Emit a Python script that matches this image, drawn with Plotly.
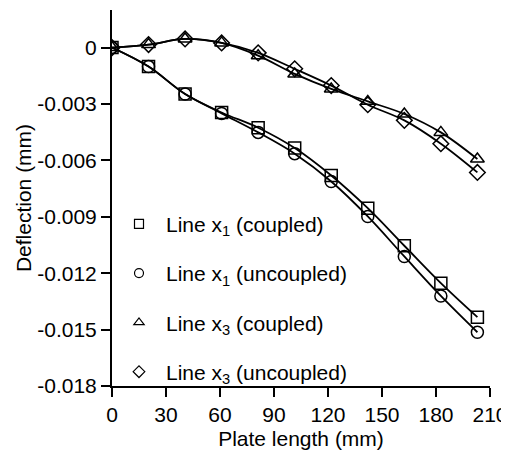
import plotly.graph_objects as go

# Data
plate_length = [0, 20.3, 40.6, 60.9, 81.2, 101.5, 121.8, 142.1, 162.4, 182.7, 203]
x1_coupled = [0, -0.00101, -0.00247, -0.00345, -0.00426, -0.00534, -0.00680, -0.00854, -0.01054, -0.01253, -0.01434]
x1_uncoupled = [0, -0.00101, -0.00247, -0.00350, -0.00451, -0.00564, -0.00712, -0.00898, -0.01111, -0.01321, -0.01514]
x3_coupled = [0, 0.00016, 0.00046, 0.00025, -0.00043, -0.00140, -0.00220, -0.00286, -0.00353, -0.00451, -0.00593]
x3_uncoupled = [0, 0.00016, 0.00046, 0.00025, -0.00028, -0.00113, -0.00202, -0.00304, -0.00387, -0.00511, -0.00664]

series_names = [
    "Line x<sub>1</sub> (coupled)",
    "Line x<sub>1</sub> (uncoupled)",
    "Line x<sub>3</sub> (coupled)",
    "Line x<sub>3</sub> (uncoupled)",
]
series_values = [x1_coupled, x1_uncoupled, x3_coupled, x3_uncoupled]
series_symbols = ["square-open", "circle-open", "triangle-up-open", "diamond-open"]

x_tickvals = [0, 30, 60, 90, 120, 150, 180, 210]
y_tickvals = [0, -0.003, -0.006, -0.009, -0.012, -0.015, -0.018]
y_ticktext = ["0", "-0.003", "-0.006", "-0.009", "-0.012", "-0.015", "-0.018"]

FONT = "Liberation Sans, Arial, Helvetica, sans-serif"
FS = 21

fig = go.Figure()

for name, vals, sym in zip(series_names, series_values, series_symbols):
    fig.add_trace(go.Scatter(
        x=plate_length, y=vals, mode="lines+markers",
        line=dict(color="black", width=1.8, shape="spline", smoothing=1.0),
        marker=dict(symbol=sym, size=12, color="black", line=dict(width=1.5, color="black")),
        showlegend=False, hoverinfo="skip",
    ))

for i, (name, sym) in enumerate(zip(series_names, series_symbols)):
    fig.add_trace(go.Scatter(
        x=[None], y=[None], mode="markers", name=name,
        legendgroup="g%d" % i,
        marker=dict(symbol=sym, size=9, color="black", line=dict(width=1.2, color="black")),
    ))

# The page body has an 8px default margin, so the figure is sized to fill the rest.
fig.update_layout(
    width=501, height=444,
    margin=dict(l=104, r=19, t=2, b=66),
    paper_bgcolor="white", plot_bgcolor="white",
    font=dict(family=FONT, size=FS, color="black"),
    showlegend=True,
    legend=dict(
        x=0.0, y=0.485, xanchor="left", yanchor="top",
        bgcolor="rgba(0,0,0,0)", borderwidth=0,
        traceorder="grouped", tracegroupgap=19,
        itemwidth=44, font=dict(family=FONT, size=FS, color="black"),
    ),
    xaxis=dict(
        range=[0, 210], tickvals=x_tickvals, automargin=False,
        showline=True, linecolor="black", linewidth=2,
        ticks="outside", ticklen=9, tickwidth=1.5, tickcolor="black",
        showgrid=False, zeroline=False,
        tickfont=dict(family=FONT, size=FS),
        title=dict(text="Plate length (mm)", font=dict(family=FONT, size=FS), standoff=6),
    ),
    yaxis=dict(
        range=[-0.018, 0.002], tickvals=y_tickvals, ticktext=y_ticktext, automargin=False,
        showline=True, linecolor="black", linewidth=2,
        ticks="outside", ticklen=9, tickwidth=1.5, tickcolor="black",
        showgrid=False, zeroline=False,
        tickfont=dict(family=FONT, size=FS),
        title=dict(text="Deflection (mm)", font=dict(family=FONT, size=FS), standoff=0),
    ),
)

fig.write_html("out.html")
